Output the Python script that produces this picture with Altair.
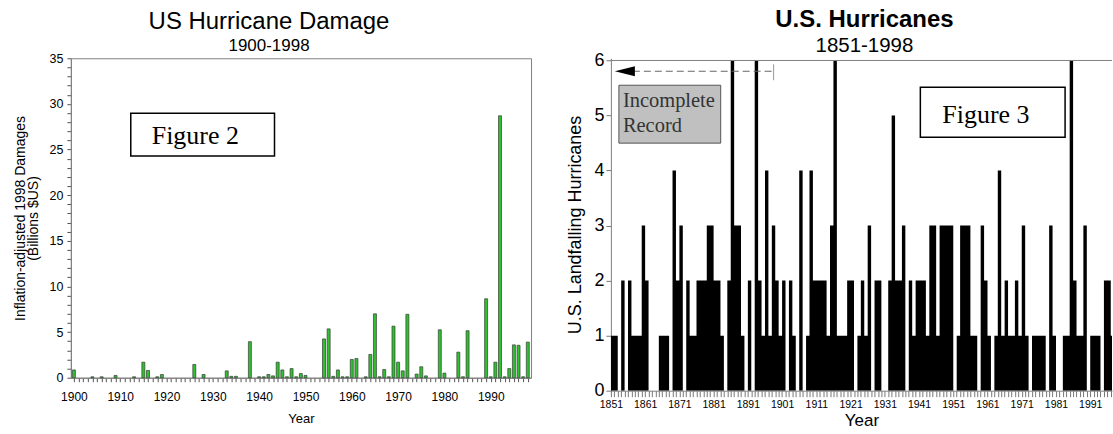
import altair as alt
import pandas as pd

# ---------------- Figure 2: US hurricane damage 1900-1998 (billions 1998 $US) ----------------
dmg_years = [1900, 1904, 1906, 1909, 1913, 1915, 1916, 1918, 1919, 1926, 1928, 1933, 1934, 1935,
             1938, 1940, 1941, 1942, 1943, 1944, 1945, 1946, 1947, 1948, 1949, 1950, 1954, 1955,
             1956, 1957, 1958, 1959, 1960, 1961, 1963, 1964, 1965, 1966, 1967, 1968, 1969, 1970,
             1971, 1972, 1974, 1975, 1976, 1979, 1980, 1983, 1984, 1985, 1989, 1990, 1991, 1992,
             1993, 1994, 1995, 1996, 1997, 1998]
dmg_values = [0.85, 0.1, 0.1, 0.25, 0.1, 1.7, 0.8, 0.1, 0.35, 1.45, 0.35, 0.75, 0.15, 0.15,
              3.95, 0.1, 0.1, 0.35, 0.2, 1.7, 0.85, 0.1, 1.0, 0.1, 0.45, 0.25, 4.25, 5.35,
              0.15, 0.85, 0.1, 0.1, 2.0, 2.1, 0.1, 2.55, 7.0, 0.1, 0.9, 0.1, 5.65, 1.7,
              0.75, 6.95, 0.4, 1.2, 0.2, 5.25, 0.5, 2.8, 0.1, 5.15, 8.65, 0.1, 1.7, 28.7,
              0.1, 1.0, 3.6, 3.55, 0.1, 3.9]
dmg_x_ticks = list(range(1900, 1999))
dmg_y_ticks = list(range(0, 36))

# ---------------- Figure 3: U.S. landfalling hurricanes 1851-1998 ----------------
hur_years = list(range(1851, 1999))
hur_counts = [
    1, 1, 0, 2, 0, 2, 1, 1, 1, 3,   # 1851-1860
    2, 0, 0, 0, 1, 1, 1, 0, 4, 2,   # 1861-1870
    3, 0, 2, 1, 1, 2, 2, 2, 3, 3,   # 1871-1880
    2, 2, 1, 0, 2, 6, 3, 3, 1, 0,   # 1881-1890
    2, 0, 6, 2, 1, 4, 1, 3, 2, 1,   # 1891-1900
    2, 0, 2, 1, 0, 4, 0, 1, 4, 2,   # 1901-1910
    2, 2, 2, 1, 3, 6, 1, 1, 1, 2,   # 1911-1920
    2, 0, 1, 2, 1, 3, 0, 2, 2, 0,   # 1921-1930
    0, 2, 5, 2, 2, 3, 0, 2, 1, 2,   # 1931-1940
    2, 2, 1, 3, 3, 1, 3, 3, 3, 3,   # 1941-1950
    0, 1, 3, 3, 3, 1, 1, 0, 3, 2,   # 1951-1960
    1, 0, 1, 4, 1, 2, 1, 1, 2, 1,   # 1961-1970
    3, 1, 0, 1, 1, 1, 1, 0, 3, 1,   # 1971-1980
    0, 0, 1, 1, 6, 2, 1, 1, 3, 0,   # 1981-1990
    1, 1, 1, 0, 2, 2, 1, 3,         # 1991-1998
]
hur_x_ticks = list(range(1851, 1998))
hur_y_ticks = [0, 1, 2, 3, 4, 5, 6]

dmg_df = pd.DataFrame({"year": dmg_years, "damage": dmg_values})
hur_df = pd.DataFrame({"year": hur_years, "count": hur_counts})
one = pd.DataFrame({"k": [0]})

SANS = "Liberation Sans"
SERIF = "Liberation Serif"
GRAY = "#808080"

# ---------------- left panel ----------------
left_bars = alt.Chart(dmg_df).mark_bar(
    size=3, fill="#2dc22d", stroke="#3a3a3a", strokeWidth=0.7
).encode(
    x=alt.X("year:Q",
            scale=alt.Scale(domain=[1899.35, 1998.7], nice=False, zero=False, padding=0),
            axis=alt.Axis(values=dmg_x_ticks, format="d",
                          labelExpr="datum.value % 10 === 0 ? datum.label : ''",
                          labelOverlap=False, labelFlush=False, grid=False,
                          tickSize=4, tickColor="#555555", domainColor=GRAY,
                          labelFont=SANS, labelFontSize=12, labelColor="black", labelPadding=10,
                          title="Year", titleFont=SANS, titleFontSize=13,
                          titleFontWeight="normal", titleColor="black", titlePadding=10)),
    y=alt.Y("damage:Q",
            scale=alt.Scale(domain=[0, 35], nice=False, padding=0),
            axis=alt.Axis(values=dmg_y_ticks,
                          labelExpr="datum.value % 5 === 0 ? datum.label : ''",
                          labelOverlap=False, grid=False,
                          tickSize=4, tickColor="#555555", domainColor=GRAY,
                          labelFont=SANS, labelFontSize=12.5, labelColor="black", labelPadding=4,
                          title=["Inflation-adjusted 1998 Damages", "(Billions $US)"],
                          titleFont=SANS, titleFontSize=14, titleFontWeight="normal",
                          titleColor="black", titlePadding=9, titleLineHeight=13)),
)

fig2_box = alt.Chart(one).mark_rect(fill="white", stroke="black", strokeWidth=1.5).encode(
    x=alt.value(60), x2=alt.value(204), y=alt.value(55), y2=alt.value(98))
fig2_text = alt.Chart(one).mark_text(
    text="Figure 2", font=SERIF, fontSize=26, align="left", baseline="alphabetic", color="black"
).encode(x=alt.value(81), y=alt.value(86))

left = alt.layer(left_bars, fig2_box, fig2_text).properties(
    width=461, height=320,
    title=alt.TitleParams(
        text="US Hurricane Damage", subtitle="1900-1998",
        font=SANS, fontSize=24, fontWeight="normal", color="black",
        subtitleFont=SANS, subtitleFontSize=17, subtitleColor="black",
        anchor="middle", dx=-32, offset=-2, subtitlePadding=4),
)

# ---------------- right panel ----------------
# one black column per year, drawn as a stepped silhouette so neighbouring years merge
right_bars = alt.Chart(hur_df).mark_area(
    interpolate="step-after", color="black", clip=True
).encode(
    x=alt.X("year:Q",
            scale=alt.Scale(domain=[1851, 1997.36], nice=False, zero=False, padding=0),
            axis=alt.Axis(values=hur_x_ticks, format="d",
                          labelExpr="(datum.value - 1851) % 10 === 0 ? datum.label : ''",
                          labelOverlap=False, labelFlush=False, grid=False,
                          tickSize=6, tickColor="#777777", domainColor=GRAY,
                          labelFont=SANS, labelFontSize=10.5, labelColor="black", labelPadding=3,
                          title="Year", titleFont=SANS, titleFontSize=17,
                          titleFontWeight="normal", titleColor="black", titlePadding=2)),
    y=alt.Y("count:Q",
            scale=alt.Scale(domain=[0, 6.04], nice=False, padding=0),
            axis=alt.Axis(values=hur_y_ticks, format="d", grid=False,
                          tickSize=5, tickColor="#777777", domainColor=GRAY,
                          labelFont=SANS, labelFontSize=18, labelColor="black", labelPadding=2,
                          title="U.S. Landfalling Hurricanes", titleFont=SANS, titleFontSize=18,
                          titleFontWeight="normal", titleColor="black", titlePadding=9)),
)

top_border = alt.Chart(one).mark_rule(color=GRAY, strokeWidth=1).encode(
    x=alt.value(0), x2=alt.value(502), y=alt.datum(6))

arrow_line = alt.Chart(one).mark_rule(color="#666666", strokeWidth=1, strokeDash=[7, 4]).encode(
    x=alt.value(22), x2=alt.value(163), y=alt.value(13))
arrow_cap = alt.Chart(one).mark_rule(color="#999999", strokeWidth=1).encode(
    x=alt.value(163), y=alt.value(6), y2=alt.value(22))
arrow_head = alt.Chart(one).mark_point(
    shape="M-1,0L1,-0.5L1,0.5Z", filled=True, color="black", size=400, opacity=1
).encode(x=alt.value(14), y=alt.value(13))

inc_box = alt.Chart(one).mark_rect(fill="#c0c0c0", stroke="#555555", strokeWidth=1).encode(
    x=alt.value(8), x2=alt.value(110), y=alt.value(27), y2=alt.value(85))
inc_text1 = alt.Chart(one).mark_text(
    text="Incomplete", font=SERIF, fontSize=20.5, align="left", baseline="alphabetic", color="#333333"
).encode(x=alt.value(12), y=alt.value(49))
inc_text2 = alt.Chart(one).mark_text(
    text="Record", font=SERIF, fontSize=20.5, align="left", baseline="alphabetic", color="#333333"
).encode(x=alt.value(12), y=alt.value(74))

fig3_box = alt.Chart(one).mark_rect(fill="white", stroke="black", strokeWidth=1.5).encode(
    x=alt.value(310), x2=alt.value(455), y=alt.value(29), y2=alt.value(79))
fig3_text = alt.Chart(one).mark_text(
    text="Figure 3", font=SERIF, fontSize=26, align="left", baseline="alphabetic", color="black"
).encode(x=alt.value(332), y=alt.value(65))

right = alt.layer(
    right_bars, top_border, arrow_line, arrow_cap, arrow_head, inc_box, inc_text1, inc_text2,
    fig3_box, fig3_text
).properties(
    width=502, height=333,
    view=alt.ViewBackground(stroke="transparent"),
    title=alt.TitleParams(
        text="U.S. Hurricanes", subtitle="1851-1998",
        font=SANS, fontSize=24, fontWeight="bold", color="black",
        subtitleFont=SANS, subtitleFontSize=20.5, subtitleColor="black",
        anchor="middle", dx=3, offset=-5, subtitlePadding=4),
)

chart = alt.hconcat(left, right, spacing=80, bounds="flush").properties(
    padding={"left": 12, "top": 7, "right": 0, "bottom": 0},
    background="white",
).configure_view(stroke=GRAY)

chart.save("out.html", embed_options={"renderer": "svg", "actions": False})
